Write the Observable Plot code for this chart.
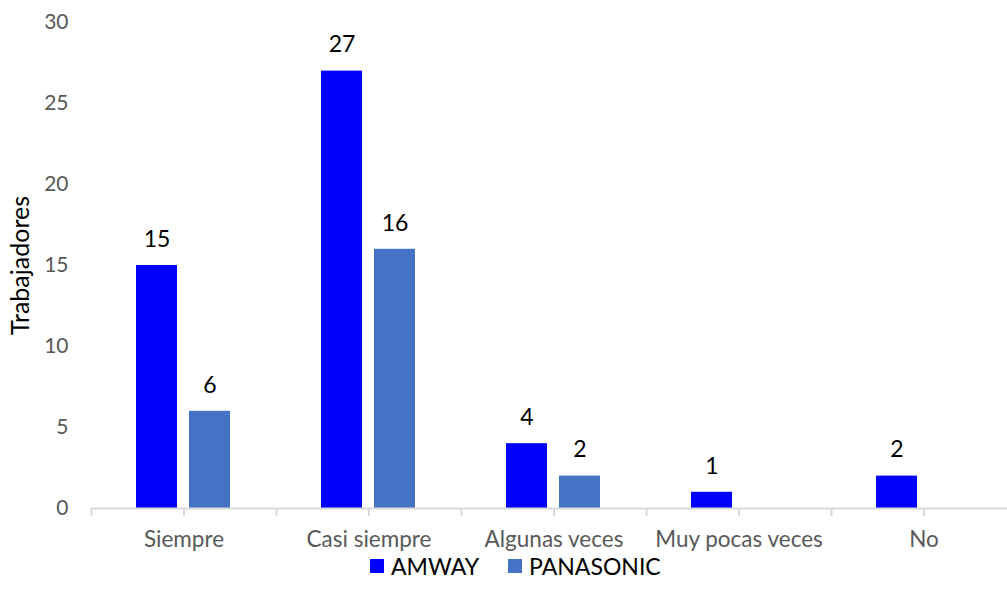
<!DOCTYPE html>
<html>
<head>
<meta charset="utf-8">
<script src="https://cdn.jsdelivr.net/npm/d3@7"></script>
<script src="https://cdn.jsdelivr.net/npm/@observablehq/plot@0.6"></script>
<style>
  body { margin: 0; background: white; font-family: Lato, "Open Sans", sans-serif; }
  #chart svg { display: block; overflow: visible; }
  #legend { display: flex; align-items: center; height: 32px; padding-left: 370px; font-size: 23px; color: #000; }
  .item { display: flex; align-items: center; margin-right: 29px; }
  .sw { width: 14px; height: 14px; margin-right: 7px; }
</style>
</head>
<body>
<div id="chart"></div>
<div id="legend"></div>
<script>
const categories = ["Siempre", "Casi siempre", "Algunas veces", "Muy pocas veces", "No"];
const series = ["AMWAY", "PANASONIC"];
const amway = [15, 27, 4, 1, 2];
const panasonic = [6, 16, 2, null, null];
const yTicks = [0, 5, 10, 15, 20, 25, 30];
const colors = ["#0000FF", "#4472C4"];
const yLabel = "Trabajadores";

const data = [];
categories.forEach((c, i) => {
  if (amway[i] != null) data.push({category: c, series: series[0], value: amway[i]});
  if (panasonic[i] != null) data.push({category: c, series: series[1], value: panasonic[i]});
});

const chart = Plot.plot({
  width: 1007,
  height: 550,
  marginLeft: 91,
  marginRight: -9,
  marginTop: 22,
  marginBottom: 42,
  style: {fontFamily: "Lato, 'Open Sans', sans-serif", background: "white", overflow: "visible"},
  fx: {domain: categories, padding: 0, label: null},
  x: {domain: series, paddingInner: 0.226, paddingOuter: 0.858, axis: null},
  y: {domain: [0, 30], label: null},
  color: {domain: series, range: colors},
  marks: [
    Plot.barY(data, {fx: "category", x: "series", y: "value", fill: "series"}),
    Plot.text(data, {fx: "category", x: "series", y: "value", text: d => String(d.value), dy: -26, lineAnchor: "middle", fontSize: 23, fill: "#000"}),
    Plot.ruleY([0], {stroke: "#d9d9d9", strokeWidth: 2}),
    Plot.axisY({ticks: yTicks, tickSize: 0, tickPadding: 23, fontSize: 21, fill: "#595959", label: null}),
    Plot.axisY({ticks: [], label: yLabel, labelAnchor: "center", labelOffset: 80, labelArrow: "none", fontSize: 25, fill: "#000"}),
    Plot.axisFx({anchor: "bottom", tickSize: 8, tickPadding: 15, fontSize: 22.5, fill: "#595959", stroke: "#d9d9d9", strokeWidth: 2, label: null}),
    Plot.axisFx({anchor: "bottom", tickSize: 8, tickFormat: () => "", stroke: "#d9d9d9", strokeWidth: 2, dx: -92.5, label: null})
  ]
});
document.getElementById("chart").appendChild(chart);

const legend = document.getElementById("legend");
series.forEach((s, i) => {
  const item = document.createElement("div");
  item.className = "item";
  const sw = document.createElement("div");
  sw.className = "sw";
  sw.style.background = colors[i];
  const t = document.createElement("span");
  t.textContent = s;
  item.appendChild(sw);
  item.appendChild(t);
  legend.appendChild(item);
});
</script>
</body>
</html>
